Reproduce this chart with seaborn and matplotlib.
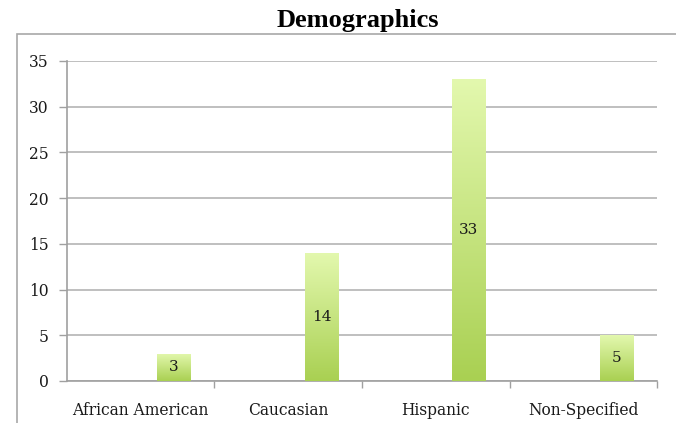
import numpy as np
import pandas as pd
import matplotlib
matplotlib.use("Agg")
import matplotlib.pyplot as plt
import seaborn as sns
from matplotlib.colors import LinearSegmentedColormap
from matplotlib.patches import Rectangle

# datos
categorias = ["African American", "Caucasian", "Hispanic", "Non-Specified"]
valores = [3, 14, 33, 5]
series = ["s1", "s2", "Count"]   # Excel dejo dos series vacias, la barra va a la derecha
yticks = [0, 5, 10, 15, 20, 25, 30, 35]

sns.set_theme(style="white")
plt.rcParams["font.family"] = ["DejaVu Serif"]

filas = []
for c, v in zip(categorias, valores):
    filas.append({"cat": c, "serie": "s1", "n": 0})
    filas.append({"cat": c, "serie": "s2", "n": 0})
    filas.append({"cat": c, "serie": "Count", "n": v})
df = pd.DataFrame(filas)

fig = plt.figure(figsize=(6.76, 4.23), dpi=100)
ax = fig.add_axes([0.0991, 0.0993, 0.8728, 0.7565])

sns.barplot(data=df, x="cat", y="n", hue="serie", hue_order=series,
            order=categorias, width=0.675, palette=["#ffffff", "#ffffff", "#c0e07a"],
            edgecolor="none", legend=False, ax=ax, errorbar=None)

# degradado verde en cada barra
cmap = LinearSegmentedColormap.from_list("verde", ["#a9d052", "#e3f8ae"])
grad = np.linspace(0, 1, 256).reshape(-1, 1)
for p in list(ax.patches):
    h = p.get_height()
    if not h or np.isnan(h) or h <= 0:
        p.set_visible(False)
        continue
    x0 = p.get_x()
    w = p.get_width()
    im = ax.imshow(grad, cmap=cmap, origin="lower", aspect="auto",
                   extent=(x0, x0 + w, 0, h), zorder=3)
    im.set_clip_path(p)
    p.set_facecolor("none")
    ax.text(x0 + w / 2, h / 2, str(int(h)), ha="center", va="center",
            fontsize=11, color="#1a1a1a", zorder=4)

ax.set_xlim(-0.5, 3.5)
ax.set_ylim(0, 35)
ax.set_yticks(yticks)
ax.yaxis.grid(True, color="#b4b4b4", linewidth=1.2)
ax.set_axisbelow(True)
ax.set_xlabel("")
ax.set_ylabel("")

ax.set_xticks(range(len(categorias)))
ax.set_xticklabels(categorias, fontsize=11.2)
ax.set_xticks([0.5, 1.5, 2.5, 3.5], minor=True)
ax.tick_params(axis="x", which="major", length=0, pad=15, colors="#1a1a1a")
ax.tick_params(axis="x", which="minor", length=5, width=1, color="#a0a0a0", direction="out", bottom=True)
ax.tick_params(axis="y", length=6, width=1, color="#a0a0a0", direction="out", left=True,
               labelsize=11.2, labelcolor="#1a1a1a", pad=7)

for s in ["top", "right"]:
    ax.spines[s].set_visible(False)
for s in ["left", "bottom"]:
    ax.spines[s].set_color("#a0a0a0")
    ax.spines[s].set_linewidth(1.2)

# marco del grafico
fig.add_artist(Rectangle((17 / 676, -0.1), 1.0, (423 - 34) / 423 + 0.1,
                         transform=fig.transFigure, fill=False,
                         edgecolor="#a8a8a8", linewidth=1.2))

fig.text(358 / 676, 1 - 20 / 423, "Demographics", ha="center", va="center",
         fontsize=19, fontweight="bold", family="Liberation Serif", color="black")

fig.savefig("out.png", dpi=100)
